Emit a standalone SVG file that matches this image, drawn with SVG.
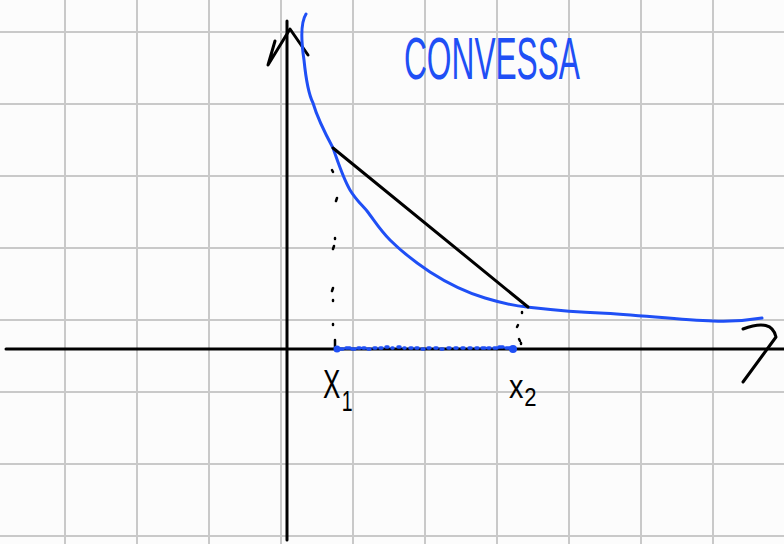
<svg xmlns="http://www.w3.org/2000/svg" width="784" height="544" viewBox="0 0 784 544">
<style>
.grid{stroke:#c9c9c9;stroke-width:2}
.ink{fill:none;stroke:#000;stroke-width:3;stroke-linecap:round;stroke-linejoin:round}
.blue{fill:none;stroke:#1f4ff5;stroke-width:3;stroke-linecap:round;stroke-linejoin:round}
.dot{fill:none;stroke:#000;stroke-width:2.5;stroke-linecap:round}
.bdot{fill:none;stroke:#1f4ff5;stroke-width:3.5;stroke-linecap:round}
.lbl{font-family:"Liberation Sans",Arial,sans-serif;fill:#000}
</style>
<rect width="784" height="544" fill="#fcfcfc"/>
<g id="grid">
<path class="grid" d="M65,0V544M137,0V544M209,0V544M281,0V544M353,0V544M425,0V544M497,0V544M569,0V544M641,0V544M713,0V544"/>
<path class="grid" d="M0,32H784M0,104H784M0,176H784M0,248H784M0,320H784M0,392H784M0,464H784M0,536H784"/>
</g>
<g id="axes">
<path class="ink" d="M287,21V540"/>
<path class="ink" d="M6,349H784"/>
<path class="ink" d="M275,41L268,65L290,29L308,55"/>
<path class="ink" d="M743,329Q772,318 776,337L743,382"/>
</g>
<g id="curve">
<path class="blue" d="M306,14C301,22 301,40 304,60C306,80 309,95 313,103C318,120 326,135 333,148C338,162 343,178 350,190C356,200 362,205 367,211C374,220 380,230 390,240C400,250 415,262 430,272C447,283 465,292 485,298C505,304 515,306 527,307C545,309 570,312 600,313C640,315 680,320 713,321C735,322 750,320 762,318"/>
</g>
<g id="chord">
<path class="ink" d="M333,148L528,307"/>
</g>
<g id="guides">
<path class="dot" d="M332,170l1,2M337,198l-1,3M335,238l0,1M334,246l-1,3M333,288l-1,3M333,300l0,1M333,324l0,1M335,340v9"/>
<path class="dot" d="M522,312l0,1M518,325l-1,2M519,339l1,2M521,343l0,1"/>
<path class="bdot" d="M337,349h6M346,348h4M352,349h3M358,348h2M363,348h2M368,349h2M374,348h2M380,348h2M386,347h2M392,348h1M398,347h2M404,348h1M410,348h2M416,348h2M422,349h2M428,348h2M435,348h2M441,349h2M448,348h2M455,348h2M462,348h2M469,348h2M476,348h2M482,348h3M488,348h2M494,348h3M499,347h4M506,348h5"/>
<circle cx="337" cy="349" r="3.5" fill="#1f4ff5"/>
<circle cx="513" cy="349" r="4" fill="#1f4ff5"/>
</g>
<g id="labels">
<text class="lbl" transform="translate(323,398) scale(0.65,1)" font-size="40">X<tspan dx="2" dy="13" font-size="30">1</tspan></text>
<text class="lbl" transform="translate(509,398) scale(0.85,1)" font-size="34">x<tspan dx="1" dy="8" font-size="26">2</tspan></text>
<text x="404" y="79" font-family="'Liberation Sans',Arial,sans-serif" font-size="60" fill="#1f4ff5" textLength="176" lengthAdjust="spacingAndGlyphs">CONVESSA</text>
</g>
</svg>
